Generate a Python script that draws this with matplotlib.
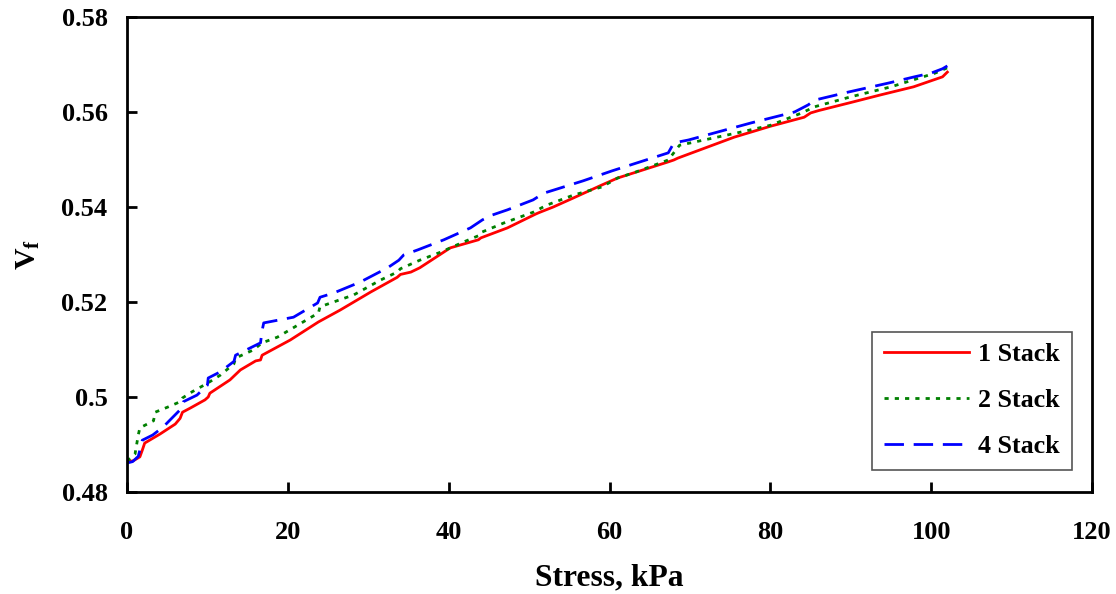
import matplotlib
matplotlib.use("Agg")
import matplotlib.pyplot as plt

# 1 Stack
x_1 = [0, 0.8, 1.6, 1.9, 2.2, 4.1, 6.0, 6.6, 6.9, 7.9, 9.7, 10.1, 10.3, 12.8, 14.1,
       16.0, 16.6, 16.8, 20.3, 23.8, 26.5, 30.3, 33.6, 34.0, 35.3, 36.4, 40.2, 43.7,
       44.0, 47.3, 50.8, 51.2, 53.0, 55.5, 59.0, 61.0, 67.3, 68.0, 68.5, 75.5, 80.0,
       84.2, 85.0, 86.0, 90.0, 93.7, 97.8, 101.4, 102.0]
vf_1 = [0.4863, 0.4866, 0.4874, 0.4888, 0.4903, 0.4922, 0.4943, 0.4955, 0.4968, 0.4977,
        0.4994, 0.5000, 0.5008, 0.5036, 0.5057, 0.5076, 0.5078, 0.5088, 0.5120, 0.5158,
        0.5183, 0.5221, 0.5252, 0.5258, 0.5263, 0.5272, 0.5314, 0.5331, 0.5335, 0.5356,
        0.5385, 0.5388, 0.5400, 0.5419, 0.5446, 0.5461, 0.5495, 0.5499, 0.5503, 0.5547,
        0.5570, 0.5589, 0.5598, 0.5603, 0.5620, 0.5636, 0.5653, 0.5674, 0.5684]

# 2 Stack
x_2 = [0, 1.0, 1.4, 1.6, 3.3, 3.5, 5.1, 6.6, 6.9, 8.1, 10.0, 11.6, 13.3, 13.5, 15.7,
       16.8, 18.7, 20.6, 23.8, 24.0, 28.2, 31.5, 33.6, 34.0, 36.4, 39.0, 41.8, 43.9,
       44.1, 46.8, 50.5, 52.2, 55.5, 59.0, 61.0, 63.0, 67.3, 67.8, 68.7, 76.4, 80.0,
       83.9, 85.5, 90.0, 95.0, 98.6, 100.5, 102.0]
vf_2 = [0.4865, 0.4880, 0.4920, 0.4935, 0.4950, 0.4968, 0.4979, 0.4990, 0.4998, 0.5011,
        0.5029, 0.5046, 0.5070, 0.5082, 0.5099, 0.5114, 0.5126, 0.5145, 0.5177, 0.5190,
        0.5215, 0.5246, 0.5263, 0.5270, 0.5288, 0.5305, 0.5326, 0.5341, 0.5347, 0.5366,
        0.5389, 0.5404, 0.5425, 0.5442, 0.5461, 0.5472, 0.5499, 0.5510, 0.5530, 0.5558,
        0.5572, 0.5598, 0.5611, 0.5632, 0.5653, 0.5672, 0.5682, 0.5693]

# 4 Stack
x_4 = [0, 0.7, 1.4, 1.7, 1.9, 3.2, 4.5, 6.6, 7.0, 8.7, 10.0, 10.1, 11.6, 13.3, 13.5,
       16.6, 16.8, 17.0, 20.7, 23.7, 24.0, 25.7, 29.0, 32.4, 33.8, 34.4, 36.2, 39.4,
       42.7, 44.2, 45.4, 47.3, 50.5, 51.8, 53.5, 56.7, 60.3, 67.3, 68.0, 69.8, 77.6,
       83.0, 84.7, 85.5, 89.7, 94.7, 97.9, 100.0, 101.4, 102.0]
vf_4 = [0.4861, 0.4864, 0.4875, 0.4895, 0.4909, 0.4920, 0.4937, 0.4973, 0.4990, 0.5004,
        0.5025, 0.5040, 0.5053, 0.5075, 0.5088, 0.5114, 0.5140, 0.5156, 0.5168, 0.5198,
        0.5210, 0.5219, 0.5242, 0.5272, 0.5288, 0.5299, 0.5310, 0.5331, 0.5356, 0.5373,
        0.5383, 0.5394, 0.5415, 0.5429, 0.5438, 0.5455, 0.5476, 0.5514, 0.5535, 0.5541,
        0.5577, 0.5600, 0.5615, 0.5625, 0.5642, 0.5661, 0.5674, 0.5682, 0.5691, 0.5697]

x_ticks = [0, 20, 40, 60, 80, 100, 120]
y_ticks = [0.48, 0.50, 0.52, 0.54, 0.56, 0.58]
y_tick_labels = ["0.48", "0.5", "0.52", "0.54", "0.56", "0.58"]

plt.rcParams["font.family"] = ["Liberation Serif", "DejaVu Serif"]
plt.rcParams["font.weight"] = "bold"
plt.rcParams["mathtext.default"] = "regular"

fig = plt.figure(figsize=(11.16, 5.94), dpi=100)
ax = fig.add_axes([0.1138, 0.1717, 0.8648, 0.7997])

ax.plot(x_1, vf_1, color="#FF0000", lw=2, label="1 Stack")
ax.plot(x_2, vf_2, color="#008000", lw=2, dashes=(1.5, 2.2), label="2 Stack")
ax.plot(x_4, vf_4, color="#0000FF", lw=2, dashes=(7, 3.5), label="4 Stack")

ax.set_xlim(0, 120)
ax.set_ylim(0.48, 0.58)
ax.set_xticks(x_ticks)
ax.set_yticks(y_ticks)
ax.set_yticklabels(y_tick_labels)
ax.tick_params(direction="in", length=7, width=2, labelsize=19, top=False, right=False)
ax.tick_params(axis="x", pad=21)
ax.tick_params(axis="y", pad=14)
for s in ax.spines.values():
    s.set_linewidth(2)

ax.set_xlabel("Stress, kPa", fontsize=22.7, fontweight="bold", labelpad=14)
ax.set_ylabel("V$_f$", fontsize=21.5, fontweight="bold", labelpad=14)

leg = ax.legend(loc="lower right", bbox_to_anchor=(0.979, 0.046), borderaxespad=0,
                fontsize=18.7, handlelength=3.3, labelspacing=0.88, fancybox=False,
                framealpha=1, edgecolor="#555555", borderpad=0.45, handletextpad=0.35)
leg.get_frame().set_linewidth(1.2)

fig.savefig("out.png", dpi=100)
